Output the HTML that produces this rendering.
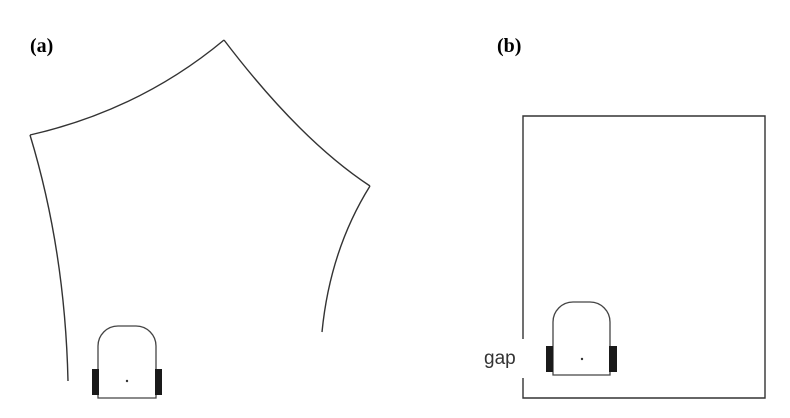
<!DOCTYPE html>
<html><head><meta charset="utf-8"><style>
html,body{margin:0;padding:0;background:#fff;}
svg{display:block}
text{font-family:"Liberation Serif",serif;}
</style></head><body>
<svg width="790" height="418" viewBox="0 0 790 418">
<text x="30" y="52" font-size="20" font-weight="bold">(a)</text>
<text x="497" y="52" font-size="20" font-weight="bold">(b)</text>
<g fill="none" stroke="#333" stroke-width="1.4">
<path d="M30,135 Q140,110 224,40"/>
<path d="M224,40 Q300,140 370,186"/>
<path d="M370,186 Q330,250 322,332"/>
<path d="M30,135 Q65,250 68,381"/>
<path d="M523,339 L523,116 L765,116 L765,398 L523,398 L523,378"/>
</g>
<g>
<path d="M98,398 L98,346 A20,20 0 0 1 118,326 L136,326 A20,20 0 0 1 156,346 L156,398 Z" fill="#fff" stroke="#444" stroke-width="1.3"/>
<rect x="92" y="369" width="7" height="26" fill="#1a1a1a"/>
<rect x="155" y="369" width="7" height="26" fill="#1a1a1a"/>
<circle cx="127" cy="381" r="1.2" fill="#333"/>
</g>
<g>
<path d="M553,375 L553,322 A20,20 0 0 1 573,302 L590,302 A20,20 0 0 1 610,322 L610,375 Z" fill="#fff" stroke="#444" stroke-width="1.3"/>
<rect x="546" y="346" width="7" height="26" fill="#1a1a1a"/>
<rect x="609" y="346" width="8" height="26" fill="#1a1a1a"/>
<circle cx="582" cy="359" r="1.2" fill="#333"/>
</g>
<text x="484" y="364" font-size="19" fill="#333" style="font-family:'Liberation Sans',sans-serif">gap</text>
</svg>
</body></html>
